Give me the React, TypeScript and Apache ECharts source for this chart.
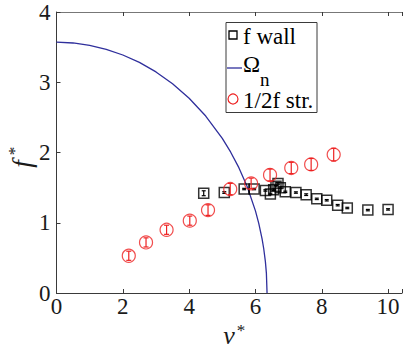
import React, { useEffect, useRef } from "react";
import * as echarts from "echarts";

// Omega_n curve
const omegaX = [0, 0.5, 1, 1.5, 2, 2.5, 3, 3.5, 4, 4.5, 5, 5.25, 5.5, 5.75, 6.0, 6.1, 6.2, 6.25, 6.3, 6.33, 6.35];
const omegaY = [3.57, 3.559, 3.525, 3.469, 3.388, 3.283, 3.147, 2.979, 2.773, 2.519, 2.2, 2.008, 1.784, 1.515, 1.169, 0.992, 0.771, 0.63, 0.447, 0.283, 0];

// f wall (black squares)
const wallX = [4.44, 5.06, 5.66, 5.96, 6.3, 6.45, 6.55, 6.62, 6.68, 6.75, 6.9, 7.22, 7.53, 7.85, 8.15, 8.48, 8.77, 9.39, 10.0];
const wallY = [1.42, 1.43, 1.48, 1.48, 1.46, 1.41, 1.47, 1.52, 1.56, 1.5, 1.44, 1.43, 1.4, 1.34, 1.32, 1.25, 1.21, 1.18, 1.19];
const wallErr = [0.035, 0.012, 0.01, 0.01, 0.01, 0.01, 0.01, 0.01, 0.01, 0.01, 0.01, 0.01, 0.012, 0.01, 0.01, 0.01, 0.01, 0.01, 0.01];

// 1/2 f str. (red circles)
const strX = [2.18, 2.7, 3.32, 4.02, 4.57, 5.24, 5.87, 6.44, 7.08, 7.68, 8.36];
const strY = [0.53, 0.72, 0.9, 1.03, 1.18, 1.48, 1.56, 1.68, 1.78, 1.83, 1.97];
const strErr = [0.065, 0.065, 0.065, 0.065, 0.075, 0.08, 0.075, 0.085, 0.08, 0.085, 0.09];

const xTicks = [0, 2, 4, 6, 8, 10];
const yTicks = [0, 1, 2, 3, 4];

const BLUE = "#2f2f9c";
const RED = "#ee2222";
const AXIS = "#3a3a3a";
const SERIF = "Liberation Serif";

function errorBar(color: string, cap: number, width: number) {
  return (params: any, api: any) => {
    const x = api.value(0);
    const y = api.value(1);
    const e = api.value(2);
    const t = api.coord([x, y + e]);
    const b = api.coord([x, y - e]);
    const st = { stroke: color, lineWidth: width };
    return {
      type: "group",
      children: [
        { type: "line", shape: { x1: t[0], y1: t[1], x2: b[0], y2: b[1] }, style: st },
        { type: "line", shape: { x1: t[0] - cap, y1: t[1], x2: t[0] + cap, y2: t[1] }, style: st },
        { type: "line", shape: { x1: b[0] - cap, y1: b[1], x2: b[0] + cap, y2: b[1] }, style: st },
      ],
    };
  };
}

export default function App() {
  const ref = useRef<HTMLDivElement>(null);
  useEffect(() => {
    if (!ref.current) return;
    const chart = echarts.init(ref.current, null, { renderer: "svg" });
    const xMax = 10.42;
    chart.setOption({
      animation: false,
      backgroundColor: "#ffffff",
      textStyle: { fontFamily: SERIF },
      grid: { left: 56.5, right: 0, top: 12, bottom: 57, containLabel: false },
      xAxis: [
        {
          type: "value",
          splitLine: { show: false },
          min: 0,
          max: xMax,
          interval: 2,
          position: "bottom",
          axisLine: { onZero: false, lineStyle: { color: AXIS, width: 1 } },
          axisTick: { inside: true, length: 4, lineStyle: { color: AXIS } },
          axisLabel: {
            fontFamily: SERIF,
            fontSize: 23,
            color: "#1a1a1a",
            margin: 2,
            formatter: (v: number) => (xTicks.includes(v) ? String(v) : ""),
          },
        },
        {
          type: "value",
          splitLine: { show: false },
          min: 0,
          max: xMax,
          interval: 2,
          position: "top",
          axisLine: { onZero: false, lineStyle: { color: "#777", width: 1 } },
          axisTick: { inside: true, length: 4, lineStyle: { color: AXIS } },
          axisLabel: { show: false },
        },
      ],
      yAxis: [
        {
          type: "value",
          splitLine: { show: false },
          min: 0,
          max: 4,
          interval: 1,
          axisLine: { show: true, onZero: false, lineStyle: { color: AXIS, width: 1 } },
          axisTick: { show: true, inside: true, length: 4, lineStyle: { color: AXIS } },
          axisLabel: {
            fontFamily: SERIF,
            fontSize: 23,
            color: "#1a1a1a",
            margin: 6,
            formatter: (v: number) => (yTicks.includes(v) ? String(v) : ""),
          },
        },
      ],
      series: [
        {
          type: "line",
          data: omegaX.map((x, i) => [x, omegaY[i]]),
          showSymbol: false,
          symbol: "none",
          lineStyle: { color: BLUE, width: 1.3 },
          z: 2,
        },
        {
          type: "custom",
          data: wallX.map((x, i) => [x, wallY[i], wallErr[i]]),
          renderItem: errorBar("#000", 2, 1.2),
          z: 3,
        },
        {
          type: "scatter",
          data: wallX.map((x, i) => [x, wallY[i]]),
          symbol: "rect",
          symbolSize: 10,
          itemStyle: { color: "rgba(0,0,0,0)", borderColor: "#000", borderWidth: 1.5 },
          z: 4,
        },
        {
          type: "custom",
          data: strX.map((x, i) => [x, strY[i], strErr[i]]),
          renderItem: errorBar(RED, 2.5, 1.2),
          z: 5,
        },
        {
          type: "scatter",
          data: strX.map((x, i) => [x, strY[i]]),
          symbol: "circle",
          symbolSize: 13,
          itemStyle: { color: "rgba(0,0,0,0)", borderColor: RED, borderWidth: 1.2 },
          z: 6,
        },
      ],
      graphic: [
        // legend box
        {
          type: "rect",
          shape: { x: 226, y: 22.5, width: 91, height: 90 },
          style: { fill: "#fff", stroke: AXIS, lineWidth: 1 },
          z: 100,
        },
        {
          type: "rect",
          shape: { x: 229, y: 31, width: 8, height: 8 },
          style: { fill: "none", stroke: "#000", lineWidth: 1.3 },
          z: 101,
        },
        {
          type: "text",
          x: 243,
          y: 36,
          style: { text: "f wall", fontFamily: SERIF, fontSize: 23, fill: "#000", textVerticalAlign: "middle" },
          z: 101,
        },
        {
          type: "line",
          shape: { x1: 227, y1: 68, x2: 242, y2: 68 },
          style: { stroke: BLUE, lineWidth: 1.3 },
          z: 101,
        },
        {
          type: "text",
          x: 243,
          y: 64,
          style: { text: "Ω", fontFamily: SERIF, fontSize: 23, fill: "#000", textVerticalAlign: "middle" },
          z: 101,
        },
        {
          type: "text",
          x: 260,
          y: 79,
          style: { text: "n", fontFamily: SERIF, fontSize: 19, fill: "#000", textVerticalAlign: "middle" },
          z: 101,
        },
        {
          type: "circle",
          shape: { cx: 233, cy: 99, r: 5 },
          style: { fill: "none", stroke: RED, lineWidth: 1.2 },
          z: 101,
        },
        {
          type: "text",
          x: 243,
          y: 100,
          style: { text: "1/2f str.", fontFamily: SERIF, fontSize: 23, fill: "#000", textVerticalAlign: "middle" },
          z: 101,
        },
        // x axis label v*
        {
          type: "text",
          x: 229,
          y: 335.5,
          style: { text: "v", fontFamily: SERIF, fontStyle: "italic", fontSize: 26, fill: "#1a1a1a", textAlign: "center", textVerticalAlign: "middle" },
          z: 101,
        },
        {
          type: "text",
          x: 241,
          y: 330,
          style: { text: "*", fontFamily: SERIF, fontSize: 17, fill: "#1a1a1a", textAlign: "center", textVerticalAlign: "middle" },
          z: 101,
        },
        // y axis label f*
        {
          type: "text",
          x: 22,
          y: 164,
          rotation: Math.PI / 2,
          style: { text: "f", fontFamily: SERIF, fontStyle: "italic", fontSize: 27, fill: "#1a1a1a", textAlign: "center", textVerticalAlign: "middle" },
          z: 101,
        },
        {
          type: "text",
          x: 14,
          y: 151,
          rotation: Math.PI / 2,
          style: { text: "*", fontFamily: SERIF, fontSize: 17, fill: "#1a1a1a", textAlign: "center", textVerticalAlign: "middle" },
          z: 101,
        },
      ],
    });
    return () => chart.dispose();
  }, []);
  return (
    <div
      ref={ref}
      style={{ position: "fixed", left: 0, top: 0, width: 405, height: 350 }}
    />
  );
}
